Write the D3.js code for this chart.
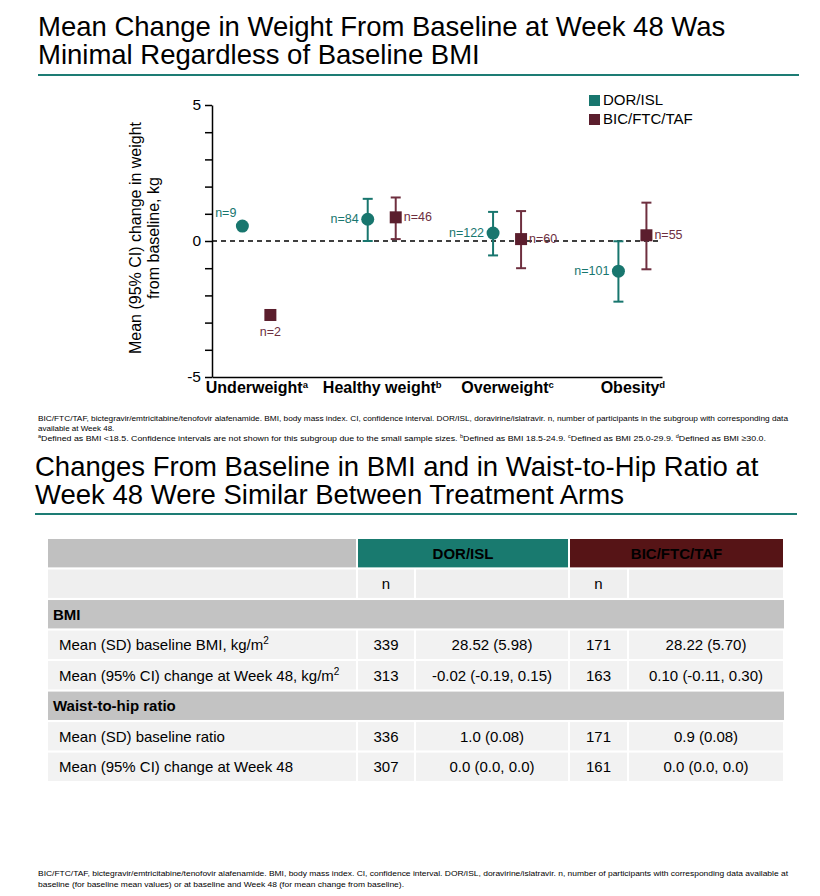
<!DOCTYPE html>
<meta charset="utf-8">
<style>
  body { margin: 0; background: #fff; }
  svg { font-family: "Liberation Sans", Arial, sans-serif; }
  .title { font-size: 27.5px; fill: #000; }
  .foot { font-size: 8px; fill: #000; }
  .cell { font-size: 15px; fill: #000; }
</style>
<svg width="820" height="896"></svg>
<script src="https://cdnjs.cloudflare.com/ajax/libs/d3/7.8.5/d3.min.js"></script>
<script>
// ---- chart data ----
var categories = ["Underweight", "Healthy weight", "Overweight", "Obesity"];
var catSup = ["a", "b", "c", "d"];
var series = ["DOR/ISL", "BIC/FTC/TAF"];
var seriesColors = ["#18766e", "#5b1e2d"];
var barColors = ["#18766e", "#6e2f3f"];

var dorMean = [0.55, 0.80, 0.29, -1.11];
var dorLow  = [null, 0.00, -0.53, -2.23];
var dorHigh = [null, 1.55, 1.07, -0.01];
var dorN    = [9, 84, 122, 101];

var bicMean = [-2.72, 0.87, 0.07, 0.21];
var bicLow  = [null, 0.07, -1.00, -1.04];
var bicHigh = [null, 1.60, 1.10, 1.41];
var bicN    = [2, 46, 60, 55];

// where the n= label sits next to each point
var dorLabelSide = ["above", "left", "left", "left"];
var bicLabelSide = ["below", "right", "right", "right"];

var yTicks = d3.range(-5, 6);
var yTickLabels = [-5, 0, 5];

// ---- table data ----
var tableArms = ["DOR/ISL", "BIC/FTC/TAF"];
var tableArmColors = ["#197a6f", "#561416"];
var rowLabels = ["BMI", "Mean (SD) baseline BMI, kg/m|2", "Mean (95% CI) change at Week 48, kg/m|2",
                 "Waist-to-hip ratio", "Mean (SD) baseline ratio", "Mean (95% CI) change at Week 48"];
var rowIsSection = [true, false, false, true, false, false];
var tableDorN   = [null, 339, 313, null, 336, 307];
var tableDorVal = [null, "28.52 (5.98)", "-0.02 (-0.19, 0.15)", null, "1.0 (0.08)", "0.0 (0.0, 0.0)"];
var tableBicN   = [null, 171, 163, null, 171, 161];
var tableBicVal = [null, "28.22 (5.70)", "0.10 (-0.11, 0.30)", null, "0.9 (0.08)", "0.0 (0.0, 0.0)"];

var svg = d3.select("svg");

// ---- titles ----
function title(lines, x, y0, step, ruleY, x2) {
  var t = svg.append("text").attr("class", "title");
  lines.forEach(function(l, i) {
    t.append("tspan").attr("x", x).attr("y", y0 + i * step).text(l);
  });
  svg.append("line").attr("x1", x).attr("x2", x2).attr("y1", ruleY).attr("y2", ruleY)
    .attr("stroke", "#1d7c74").attr("stroke-width", 2);
}
title(["Mean Change in Weight From Baseline at Week 48 Was", "Minimal Regardless of Baseline BMI"], 38, 36, 28, 75, 799);
title(["Changes From Baseline in BMI and in Waist-to-Hip Ratio at", "Week 48 Were Similar Between Treatment Arms"], 35, 476, 28, 514, 797);

// ---- chart ----
var y = d3.scaleLinear().domain([-5, 5]).range([377, 105]);
var x = d3.scalePoint().domain(categories).range([212, 662]).padding(0.295).align(0.6);
var off = d3.scalePoint().domain(series).range([-14, 14]);

var yAxis = svg.append("g").attr("transform", "translate(212,0)")
  .call(d3.axisLeft(y).tickValues(yTicks).tickSize(7).tickSizeOuter(0).tickPadding(4)
    .tickFormat(function(d) { return yTickLabels.indexOf(d) >= 0 ? String(d) : ""; }));
yAxis.selectAll("text").attr("font-size", 15.5).attr("font-family", "Liberation Sans").attr("fill", "#000");
yAxis.selectAll("line,path").attr("stroke", "#000").attr("stroke-width", 1.5);

var xAxis = svg.append("g").attr("transform", "translate(0," + y(-5) + ")")
  .call(d3.axisBottom(x).tickSize(0).tickSizeOuter(0).tickPadding(5));
xAxis.select("path").attr("stroke", "#000").attr("stroke-width", 1.5);
xAxis.selectAll(".tick text").text(null)
  .attr("font-size", 16).attr("font-weight", "bold").attr("font-family", "Liberation Sans").attr("fill", "#000")
  .each(function(d, i) {
    var t = d3.select(this);
    t.append("tspan").text(d);
    t.append("tspan").attr("font-size", 9.5).attr("dy", "-0.55em").text(catSup[i]);
  });

// y axis title
var yt = svg.append("text").attr("transform", "translate(0,238) rotate(-90)")
  .attr("text-anchor", "middle").attr("font-size", 16);
yt.append("tspan").attr("x", 0).attr("y", 141).text("Mean (95% CI) change in weight");
yt.append("tspan").attr("x", 0).attr("y", 159).text("from baseline, kg");

// zero reference
svg.append("line").attr("x1", 212).attr("x2", 660).attr("y1", y(0)).attr("y2", y(0))
  .attr("stroke", "#000").attr("stroke-width", 1.5).attr("stroke-dasharray", "5,4");

function drawSeries(si, means, lows, highs, ns, sides) {
  var pts = categories.map(function(c, i) {
    return { cat: c, mean: means[i], low: lows[i], high: highs[i], n: ns[i], side: sides[i],
             cx: x(c) + off(series[si]) };
  });
  var g = svg.append("g");
  var withCI = pts.filter(function(p) { return p.low !== null; });
  g.selectAll(".ci").data(withCI).enter().append("line")
    .attr("x1", function(p) { return p.cx; }).attr("x2", function(p) { return p.cx; })
    .attr("y1", function(p) { return y(p.low); }).attr("y2", function(p) { return y(p.high); })
    .attr("stroke", barColors[si]).attr("stroke-width", 2);
  ["low", "high"].forEach(function(k) {
    g.selectAll(".cap-" + k).data(withCI).enter().append("line")
      .attr("x1", function(p) { return p.cx - 5; }).attr("x2", function(p) { return p.cx + 5; })
      .attr("y1", function(p) { return y(p[k]); }).attr("y2", function(p) { return y(p[k]); })
      .attr("stroke", barColors[si]).attr("stroke-width", 2);
  });
  if (si === 0) {
    g.selectAll("circle").data(pts).enter().append("circle")
      .attr("cx", function(p) { return p.cx; }).attr("cy", function(p) { return y(p.mean); })
      .attr("r", 6.5).attr("fill", seriesColors[si]);
  } else {
    g.selectAll("rect").data(pts).enter().append("rect")
      .attr("x", function(p) { return p.cx - 6; }).attr("y", function(p) { return y(p.mean) - 6; })
      .attr("width", 12).attr("height", 12).attr("fill", seriesColors[si]);
  }
  g.selectAll(".nlab").data(pts).enter().append("text")
    .attr("font-size", 12.5).attr("fill", barColors[si])
    .attr("text-anchor", function(p) {
      return p.side === "left" || p.side === "above" ? "end" : p.side === "right" ? "start" : "middle";
    })
    .attr("x", function(p) {
      return p.side === "left" ? p.cx - 9 : p.side === "right" ? p.cx + 8 : p.side === "above" ? p.cx - 6 : p.cx;
    })
    .attr("y", function(p) {
      return y(p.mean) + (p.side === "above" ? -9 : p.side === "below" ? 21 : 4);
    })
    .text(function(p) { return "n=" + p.n; });
}
drawSeries(0, dorMean, dorLow, dorHigh, dorN, dorLabelSide);
drawSeries(1, bicMean, bicLow, bicHigh, bicN, bicLabelSide);

// legend
var leg = svg.append("g").selectAll("g").data(series).enter().append("g")
  .attr("transform", function(d, i) { return "translate(589," + (95 + i * 19) + ")"; });
leg.append("rect").attr("width", 11).attr("height", 11).attr("fill", function(d, i) { return seriesColors[i]; });
leg.append("text").attr("x", 14).attr("y", 10).attr("font-size", 15).text(function(d) { return d; });

// ---- footnotes ----
function footLine(txt, yy, len) {
  var t = svg.append("text").attr("class", "foot").attr("x", 38).attr("y", yy);
  if (len) t.attr("textLength", len).attr("lengthAdjust", "spacingAndGlyphs");
  var wasSup = false;
  txt.split(/(\^.)/).forEach(function(part) {
    if (!part) return;
    if (part[0] === "^") {
      t.append("tspan").attr("font-size", 5).attr("dy", -3).text(part[1]);
      wasSup = true;
    } else {
      t.append("tspan").attr("dy", wasSup ? 3 : 0).text(part);
      wasSup = false;
    }
  });
}
footLine("BIC/FTC/TAF, bictegravir/emtricitabine/tenofovir alafenamide. BMI, body mass index. CI, confidence interval. DOR/ISL, doravirine/islatravir. n, number of participants in the subgroup with corresponding data", 421, 750);
footLine("available at Week 48.", 431, null);
footLine("^aDefined as BMI <18.5. Confidence intervals are not shown for this subgroup due to the small sample sizes. ^bDefined as BMI 18.5-24.9. ^cDefined as BMI 25.0-29.9. ^dDefined as BMI \u226530.0.", 441, 728);
footLine("BIC/FTC/TAF, bictegravir/emtricitabine/tenofovir alafenamide. BMI, body mass index. CI, confidence interval. DOR/ISL, doravirine/islatravir. n, number of participants with corresponding data available at", 876, 750);
footLine("baseline (for baseline mean values) or at baseline and Week 48 (for mean change from baseline).", 887, 366);

// ---- table ----
var colEdges = [48, 357, 415, 569, 628, 784];
var rowY = d3.scaleBand().domain(d3.range(rowLabels.length + 2)).range([539, 781]).paddingInner(0.07);
var tg = svg.append("g");
function cellRect(c0, c1, r, fill) {
  tg.append("rect").attr("x", colEdges[c0] + (c0 ? 1 : 0)).attr("y", rowY(r))
    .attr("width", colEdges[c1] - colEdges[c0] - (c0 ? 2 : 1)).attr("height", rowY.bandwidth()).attr("fill", fill);
}
function cellText(c, r, txt, opts) {
  opts = opts || {};
  var cx = opts.left ? colEdges[c] + opts.left : (colEdges[c] + colEdges[c + 1]) / 2;
  var t = tg.append("text").attr("class", "cell").attr("x", cx).attr("y", rowY(r) + rowY.bandwidth() / 2)
    .attr("dy", "0.36em").attr("text-anchor", opts.left ? "start" : "middle");
  if (opts.bold) t.attr("font-weight", "bold");
  if (opts.fill) t.attr("fill", opts.fill);
  if (opts.size) t.attr("font-size", opts.size);
  var parts = String(txt).split("|");
  t.append("tspan").text(parts[0]);
  if (parts[1]) t.append("tspan").attr("font-size", 10).attr("dy", "-0.6em").text(parts[1]);
  return t;
}
// header row
cellRect(0, 1, 0, "#c0c0c0");
tableArms.forEach(function(a, i) {
  var c0 = 1 + i * 2;
  tg.append("rect").attr("x", colEdges[c0] + 1).attr("y", rowY(0))
    .attr("width", colEdges[c0 + 2] - colEdges[c0] - 2).attr("height", rowY.bandwidth()).attr("fill", tableArmColors[i]);
  tg.append("text").attr("class", "cell").attr("x", (colEdges[c0] + colEdges[c0 + 2]) / 2)
    .attr("y", rowY(0) + rowY.bandwidth() / 2).attr("dy", "0.36em").attr("text-anchor", "middle")
    .attr("font-weight", "bold").attr("font-size", 14).attr("fill", "#fff").text(a);
});
// n row
d3.range(5).forEach(function(c) { cellRect(c, c + 1, 1, "#efefef"); });
cellText(1, 1, "n", { size: 14 });
cellText(3, 1, "n", { size: 14 });
// body rows
rowLabels.forEach(function(lab, i) {
  var r = i + 2;
  if (rowIsSection[i]) {
    tg.append("rect").attr("x", colEdges[0]).attr("y", rowY(r)).attr("width", colEdges[5] - colEdges[0])
      .attr("height", rowY.bandwidth()).attr("fill", "#c3c3c3");
    cellText(0, r, lab, { left: 5, bold: true });
  } else {
    d3.range(5).forEach(function(c) { cellRect(c, c + 1, r, "#f2f2f2"); });
    cellText(0, r, lab, { left: 11 });
    cellText(1, r, tableDorN[i]);
    cellText(2, r, tableDorVal[i]);
    cellText(3, r, tableBicN[i]);
    cellText(4, r, tableBicVal[i]);
  }
});
</script>
